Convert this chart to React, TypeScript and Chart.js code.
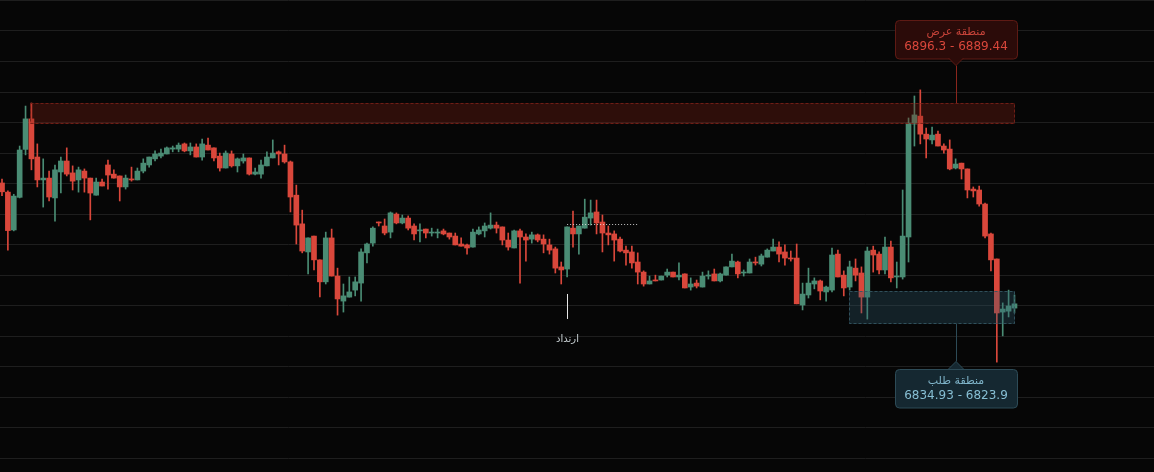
import React, { useEffect, useRef } from "react";
import { Chart, registerables } from "chart.js";

Chart.register(...registerables);

// ---- Data (price values per candle, index 0..172) ----
const opens = [
  6870.2, 6867.2, 6854.8, 6865.5, 6881.2, 6891.2, 6878.7, 6871.2, 6871.8, 6865.3,
  6873.8, 6877.4, 6873.5, 6871.2, 6874.1, 6871.8, 6866.2, 6870.5, 6876.1, 6873.1,
  6872.5, 6868.9, 6871.5, 6871.2, 6874.1, 6876.1, 6878.1, 6879.0, 6879.7, 6881.3,
  6881.3, 6883.0, 6880.7, 6882.0, 6878.7, 6882.6, 6881.7, 6879.0, 6875.1, 6879.7,
  6875.8, 6877.4, 6878.4, 6873.1, 6873.1, 6875.8, 6878.4, 6880.4, 6879.7, 6877.1,
  6866.2, 6856.8, 6847.6, 6852.8, 6845.0, 6837.8, 6852.2, 6839.7, 6831.5, 6832.8,
  6835.1, 6837.4, 6847.3, 6850.5, 6857.4, 6856.1, 6854.1, 6860.0, 6857.1, 6858.7,
  6856.1, 6854.5, 6855.1, 6853.8, 6853.8, 6854.5, 6853.8, 6852.8, 6850.2, 6849.9,
  6849.2, 6853.5, 6854.5, 6855.4, 6856.4, 6855.8, 6851.5, 6848.9, 6854.5, 6852.5,
  6851.8, 6853.2, 6851.8, 6849.9, 6848.6, 6842.7, 6842.0, 6855.4, 6853.5, 6855.4,
  6858.7, 6860.7, 6857.4, 6853.8, 6853.5, 6851.8, 6848.2, 6847.6, 6844.3, 6841.0,
  6837.1, 6838.4, 6838.4, 6840.0, 6841.0, 6839.4, 6840.4, 6836.1, 6837.4, 6836.1,
  6839.7, 6840.4, 6838.1, 6840.0, 6842.7, 6844.3, 6840.7, 6840.7, 6844.3, 6843.6,
  6845.9, 6847.9, 6849.2, 6847.6, 6845.6, 6845.6, 6830.2, 6833.5, 6837.1, 6838.1,
  6834.5, 6835.1, 6846.9, 6840.0, 6836.1, 6842.3, 6840.7, 6832.8, 6848.2, 6846.9,
  6841.7, 6849.2, 6839.4, 6839.4, 6852.5, 6889.5, 6892.1, 6886.2, 6884.3, 6886.2,
  6882.3, 6881.3, 6875.1, 6876.7, 6874.8, 6868.2, 6867.9, 6863.3, 6853.5, 6845.3,
  6827.9, 6828.2, 6829.2,
];
const highs = [
  6871.5, 6867.6, 6866.5, 6882.3, 6895.4, 6896.4, 6883.0, 6878.1, 6874.1, 6876.1,
  6878.7, 6881.7, 6875.8, 6875.4, 6874.8, 6871.8, 6871.8, 6871.5, 6877.7, 6874.5,
  6872.5, 6872.8, 6875.4, 6875.1, 6878.1, 6878.7, 6880.7, 6881.3, 6882.0, 6882.3,
  6883.3, 6883.3, 6883.3, 6883.0, 6884.6, 6884.9, 6881.7, 6880.0, 6880.7, 6880.7,
  6878.4, 6879.7, 6878.4, 6875.1, 6877.7, 6880.4, 6884.3, 6880.7, 6882.6, 6877.4,
  6869.5, 6861.3, 6852.2, 6852.8, 6845.0, 6854.1, 6855.1, 6842.3, 6837.1, 6839.4,
  6839.4, 6848.6, 6850.5, 6855.8, 6857.4, 6858.4, 6860.7, 6860.4, 6859.7, 6859.4,
  6856.8, 6856.8, 6855.1, 6855.4, 6855.1, 6855.1, 6853.8, 6853.8, 6852.2, 6850.2,
  6855.1, 6855.8, 6857.1, 6860.4, 6857.4, 6855.8, 6853.8, 6854.8, 6855.1, 6853.5,
  6854.1, 6853.5, 6853.2, 6851.8, 6849.2, 6844.3, 6855.8, 6861.0, 6856.1, 6864.9,
  6864.6, 6864.6, 6859.7, 6856.1, 6854.5, 6852.5, 6849.5, 6849.5, 6847.3, 6841.4,
  6839.7, 6840.0, 6839.7, 6842.0, 6841.0, 6844.0, 6840.4, 6839.1, 6838.4, 6841.0,
  6841.4, 6842.0, 6840.7, 6842.7, 6846.9, 6844.6, 6841.7, 6845.3, 6845.9, 6846.9,
  6848.6, 6851.8, 6850.9, 6849.9, 6847.9, 6850.2, 6837.4, 6842.3, 6839.1, 6838.4,
  6836.4, 6848.9, 6848.2, 6841.4, 6844.6, 6845.3, 6842.7, 6849.2, 6849.5, 6847.6,
  6852.5, 6851.2, 6844.3, 6867.9, 6891.5, 6898.7, 6900.7, 6888.2, 6888.5, 6887.2,
  6883.0, 6884.3, 6878.1, 6876.7, 6874.8, 6868.9, 6869.2, 6863.6, 6853.8, 6845.3,
  6830.9, 6835.1, 6833.5,
];
const lows = [
  6866.0, 6848.2, 6854.5, 6865.3, 6879.4, 6874.5, 6868.9, 6862.3, 6864.3, 6857.7,
  6866.9, 6872.5, 6867.9, 6867.2, 6867.2, 6858.1, 6866.2, 6869.2, 6868.2, 6871.8,
  6864.3, 6868.2, 6870.8, 6871.2, 6873.5, 6875.4, 6877.4, 6878.4, 6879.7, 6880.4,
  6880.4, 6880.4, 6879.4, 6878.7, 6877.7, 6881.0, 6877.4, 6874.1, 6875.1, 6875.4,
  6873.8, 6876.7, 6872.8, 6872.8, 6871.8, 6875.8, 6878.4, 6876.1, 6876.7, 6860.7,
  6850.2, 6847.3, 6840.4, 6841.7, 6832.9, 6837.1, 6839.7, 6826.9, 6827.9, 6832.8,
  6833.2, 6831.5, 6844.0, 6849.5, 6856.1, 6853.2, 6852.2, 6856.8, 6856.8, 6854.8,
  6851.5, 6850.9, 6852.2, 6852.8, 6852.2, 6853.2, 6851.8, 6849.9, 6849.5, 6846.9,
  6849.2, 6853.2, 6852.5, 6855.1, 6853.8, 6849.9, 6848.2, 6848.9, 6837.4, 6844.6,
  6850.5, 6850.9, 6847.3, 6846.9, 6840.7, 6837.1, 6839.4, 6849.2, 6846.9, 6855.4,
  6856.4, 6853.5, 6847.6, 6849.9, 6844.6, 6847.6, 6843.3, 6842.3, 6837.1, 6836.4,
  6837.1, 6838.1, 6838.4, 6839.4, 6839.4, 6838.4, 6835.8, 6835.1, 6835.8, 6836.1,
  6838.7, 6838.1, 6837.8, 6840.0, 6842.7, 6839.1, 6839.7, 6840.7, 6843.3, 6843.0,
  6845.9, 6847.9, 6844.3, 6843.3, 6844.6, 6830.6, 6828.6, 6832.5, 6835.5, 6831.9,
  6831.5, 6834.5, 6839.4, 6833.2, 6835.1, 6838.1, 6827.6, 6825.6, 6841.0, 6840.4,
  6840.4, 6837.8, 6835.8, 6838.7, 6844.3, 6882.3, 6883.0, 6878.4, 6883.0, 6882.3,
  6880.0, 6874.5, 6874.8, 6871.5, 6865.3, 6865.6, 6862.6, 6852.2, 6841.4, 6811.5,
  6820.1, 6826.3, 6827.6,
];
const closes = [
  6867.3, 6854.6, 6865.9, 6881.0, 6891.2, 6878.1, 6871.2, 6871.8, 6865.6, 6874.5,
  6877.4, 6873.1, 6870.8, 6874.5, 6871.8, 6866.9, 6870.5, 6869.2, 6872.8, 6871.8,
  6868.9, 6871.8, 6871.2, 6874.1, 6876.7, 6878.7, 6879.7, 6880.0, 6881.7, 6881.7,
  6882.6, 6880.7, 6882.0, 6878.7, 6883.0, 6881.0, 6878.4, 6875.1, 6880.0, 6875.8,
  6878.1, 6878.4, 6873.1, 6873.8, 6876.1, 6878.7, 6880.0, 6879.7, 6877.1, 6865.6,
  6856.4, 6847.9, 6852.2, 6845.0, 6837.8, 6852.2, 6839.7, 6832.2, 6833.2, 6834.5,
  6837.8, 6847.6, 6850.2, 6855.4, 6857.1, 6853.8, 6860.4, 6857.1, 6858.7, 6855.4,
  6853.5, 6854.8, 6853.8, 6854.1, 6854.1, 6853.5, 6852.5, 6849.9, 6849.5, 6848.9,
  6854.1, 6854.8, 6856.1, 6856.4, 6855.4, 6851.5, 6849.2, 6854.5, 6852.5, 6851.5,
  6853.2, 6851.5, 6850.2, 6848.2, 6842.3, 6841.7, 6855.8, 6853.5, 6856.1, 6859.0,
  6860.4, 6857.1, 6853.8, 6853.2, 6851.5, 6847.9, 6847.3, 6844.0, 6841.0, 6837.1,
  6838.1, 6838.1, 6839.7, 6841.0, 6839.4, 6840.0, 6835.8, 6837.1, 6836.4, 6839.7,
  6840.0, 6838.1, 6840.4, 6842.7, 6844.6, 6840.4, 6841.0, 6844.3, 6844.0, 6846.3,
  6848.2, 6849.2, 6846.9, 6845.6, 6845.3, 6830.6, 6833.8, 6837.4, 6838.1, 6834.8,
  6836.1, 6846.6, 6839.4, 6835.8, 6842.7, 6840.0, 6832.8, 6847.9, 6846.6, 6841.7,
  6849.2, 6839.1, 6839.7, 6852.8, 6889.8, 6892.5, 6886.2, 6884.6, 6885.9, 6882.3,
  6881.0, 6874.8, 6876.4, 6874.8, 6867.9, 6867.6, 6863.3, 6852.8, 6845.0, 6827.6,
  6828.9, 6829.9, 6830.6,
];

// Zones and annotations
const supplyLabel = "منطقة عرض";
const supplyRange = [6896.3, 6889.44];
const supplySpan = [4.8, 172.1];
const demandLabel = "منطقة طلب";
const demandRange = [6834.93, 6823.9];
const demandSpan = [143.9, 172.1];
const reversalLabel = "ارتداد";
const reversalIndex = 96;
const levelPrice = 6856.7;
const levelSpan = [96, 108];

// Axis ranges
const yRange = [6775.5, 6930.15];
const xRange = [-0.34, 195.7];

const UP = "#4a8c74";
const DOWN = "#d9473b";

function roundRect(ctx: CanvasRenderingContext2D, x: number, y: number, w: number, h: number, r: number) {
  ctx.moveTo(x + r, y);
  ctx.lineTo(x + w - r, y);
  ctx.quadraticCurveTo(x + w, y, x + w, y + r);
  ctx.lineTo(x + w, y + h - r);
  ctx.quadraticCurveTo(x + w, y + h, x + w - r, y + h);
  ctx.lineTo(x + r, y + h);
  ctx.quadraticCurveTo(x, y + h, x, y + h - r);
  ctx.lineTo(x, y + r);
  ctx.quadraticCurveTo(x, y, x + r, y);
}

const overlayPlugin = {
  id: "overlay",
  afterDatasetsDraw(chart: any) {
    const { ctx } = chart;
    const xs = chart.scales.x;
    const ys = chart.scales.y;
    ctx.save();

    const drawZone = (span: number[], range: number[], fill: string, stroke: string) => {
      const x0 = Math.round(xs.getPixelForValue(span[0]));
      const x1 = Math.round(xs.getPixelForValue(span[1]));
      const y0 = Math.round(ys.getPixelForValue(range[0]));
      const y1 = Math.round(ys.getPixelForValue(range[1]));
      ctx.fillStyle = fill;
      ctx.fillRect(x0, y0, x1 - x0, y1 - y0);
      ctx.setLineDash([3, 2]);
      ctx.strokeStyle = stroke;
      ctx.lineWidth = 1;
      ctx.strokeRect(x0 + 0.5, y0 + 0.5, x1 - x0 - 1, y1 - y0 - 1);
      ctx.setLineDash([]);
      return { x0, x1, y0, y1 };
    };

    const callout = (
      cx: number, anchorY: number, dir: number, title: string, value: string,
      fill: string, stroke: string, lineColor: string, titleColor: string, valueColor: string
    ) => {
      const w = 122, h = 38.5, tri = 7.5;
      const apexY = anchorY + dir * 37.5;
      const boxNear = anchorY + dir * 45;
      const boxTop = dir < 0 ? boxNear - h : boxNear;
      const left = Math.round(cx - w / 2) + 0.5;
      ctx.strokeStyle = lineColor;
      ctx.lineWidth = 1;
      ctx.beginPath();
      ctx.moveTo(Math.round(cx) + 0.5, anchorY);
      ctx.lineTo(Math.round(cx) + 0.5, apexY);
      ctx.stroke();
      ctx.beginPath();
      roundRect(ctx, left, Math.round(boxTop) + 0.5, w, h, 4);
      ctx.fillStyle = fill;
      ctx.fill();
      ctx.strokeStyle = stroke;
      ctx.stroke();
      ctx.beginPath();
      ctx.moveTo(cx - tri, boxNear);
      ctx.lineTo(cx, apexY);
      ctx.lineTo(cx + tri, boxNear);
      ctx.closePath();
      ctx.fillStyle = fill;
      ctx.fill();
      ctx.beginPath();
      ctx.moveTo(cx - tri, boxNear);
      ctx.lineTo(cx, apexY);
      ctx.lineTo(cx + tri, boxNear);
      ctx.strokeStyle = stroke;
      ctx.stroke();
      ctx.textAlign = "center";
      ctx.textBaseline = "middle";
      ctx.fillStyle = titleColor;
      ctx.font = "11px 'DejaVu Sans', sans-serif";
      ctx.fillText(title, cx, boxTop + 12.5);
      ctx.fillStyle = valueColor;
      ctx.font = "12px 'DejaVu Sans', sans-serif";
      ctx.fillText(value, cx, boxTop + 27);
    };

    const s = drawZone(supplySpan, supplyRange, "rgba(130, 30, 20, 0.32)", "rgba(120, 32, 24, 0.9)");
    const d = drawZone(demandSpan, demandRange, "rgba(50, 95, 115, 0.30)", "rgba(52, 86, 98, 0.9)");

    callout(s.x1 - 59, s.y0, -1, supplyLabel, `${supplyRange[0]} - ${supplyRange[1]}`,
      "#2b0b09", "#5e1a14", "#8a261d", "#c8443a", "#d9473b");
    callout(d.x1 - 59, d.y1, 1, demandLabel, `${demandRange[0]} - ${demandRange[1]}`,
      "#152831", "#2d4b57", "#2d4b57", "#7fb4c9", "#86bed3");

    const ly = Math.round(ys.getPixelForValue(levelPrice)) + 0.5;
    ctx.strokeStyle = "rgba(230,230,230,0.85)";
    ctx.setLineDash([1, 2]);
    ctx.beginPath();
    ctx.moveTo(xs.getPixelForValue(levelSpan[0]), ly);
    ctx.lineTo(xs.getPixelForValue(levelSpan[1]), ly);
    ctx.stroke();
    ctx.setLineDash([]);

    const rx = Math.round(xs.getPixelForValue(reversalIndex)) + 0.5;
    const ry = ys.getPixelForValue(lows[reversalIndex]);
    ctx.strokeStyle = "#e6e6e6";
    ctx.beginPath();
    ctx.moveTo(rx, ry + 17);
    ctx.lineTo(rx, ry + 42);
    ctx.stroke();
    ctx.fillStyle = "#c9d1d4";
    ctx.font = "10px 'DejaVu Sans', sans-serif";
    ctx.textAlign = "center";
    ctx.textBaseline = "middle";
    ctx.fillText(reversalLabel, rx, ry + 62);

    ctx.restore();
  },
};

export default function App() {
  const canvasRef = useRef<HTMLCanvasElement | null>(null);

  useEffect(() => {
    const canvas = canvasRef.current;
    if (!canvas) return;
    const idx = opens.map((_, i) => i);
    const colors = idx.map((i) => (closes[i] >= opens[i] ? UP : DOWN));
    const chart = new Chart(canvas, {
      type: "bar",
      data: {
        datasets: [
          {
            label: "wicks",
            data: idx.map((i) => ({ x: i, y: [lows[i], highs[i]] })) as any,
            backgroundColor: colors,
            barThickness: 1,
            grouped: false,
            order: 2,
          } as any,
          {
            label: "bodies",
            data: idx.map((i) => ({ x: i, y: [opens[i], closes[i]] })) as any,
            backgroundColor: colors,
            barThickness: 5,
            minBarLength: 1,
            grouped: false,
            order: 1,
          } as any,
        ],
      },
      options: {
        animation: false,
        responsive: false,
        events: [],
        layout: { padding: 0 },
        plugins: { legend: { display: false }, tooltip: { enabled: false } },
        scales: {
          x: { type: "linear", min: xRange[0], max: xRange[1], display: false, offset: false },
          y: {
            type: "linear",
            min: yRange[0],
            max: yRange[1],
            display: true,
            ticks: { display: false, stepSize: 10, includeBounds: false },
            grid: { color: "#1e1e1e", drawTicks: false, lineWidth: 1 },
            border: { display: false },
          },
        },
      } as any,
      plugins: [overlayPlugin],
    });
    return () => chart.destroy();
  }, []);

  return (
    <div style={{ position: "fixed", left: 0, top: 0, width: 1154, height: 472, background: "#060606" }}>
      <canvas ref={canvasRef} width={1154} height={472} style={{ display: "block" }} />
    </div>
  );
}
